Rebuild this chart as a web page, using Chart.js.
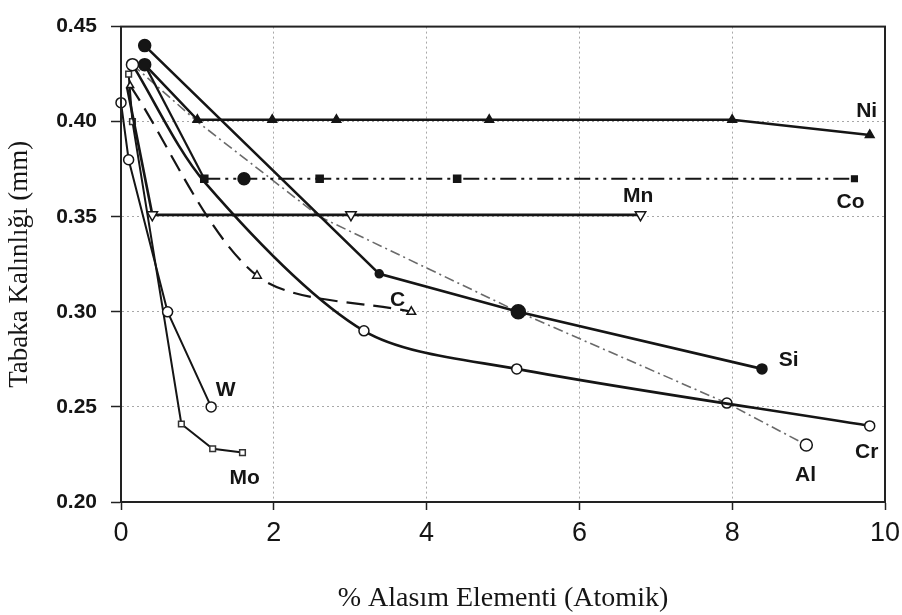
<!DOCTYPE html>
<html><head><meta charset="utf-8">
<script src="https://cdn.jsdelivr.net/npm/chart.js@4.4.1/dist/chart.umd.min.js"></script>
<style>html,body{margin:0;padding:0;background:#fff}#wrap{width:902px;height:615px;position:relative}</style>
</head><body><div id="wrap"><canvas id="c"></canvas></div>
<script>
// ---- data ----
const xTicks = [0, 2, 4, 6, 8, 10];
const yTicks = [0.20, 0.25, 0.30, 0.35, 0.40, 0.45];
const niX = [0.31, 1.0, 1.98, 2.82, 4.82, 8.0, 9.8];
const niY = [0.430, 0.401, 0.401, 0.401, 0.401, 0.401, 0.393];
const coX = [0.31, 1.09, 1.61, 2.6, 4.4, 9.6];
const coY = [0.430, 0.370, 0.370, 0.370, 0.370, 0.370];
const mnX = [0.08, 0.41, 3.01, 6.8];
const mnY = [0.418, 0.351, 0.351, 0.351];
const siX = [0.31, 3.38, 5.2, 8.39];
const siY = [0.440, 0.320, 0.300, 0.270];
const crX = [0.15, 1.1, 3.18, 5.18, 9.8];
const crY = [0.430, 0.368, 0.290, 0.270, 0.240];
const alX = [0.15, 1.0, 2.6, 5.2, 7.93, 8.97];
const alY = [0.430, 0.400, 0.350, 0.300, 0.252, 0.230];
const cX = [0.12, 1.78, 3.8];
const cY = [0.419, 0.319, 0.300];
const wX = [0.0, 0.1, 0.61, 1.18];
const wY = [0.410, 0.380, 0.300, 0.250];
const moX = [0.1, 0.15, 0.79, 1.2, 1.59];
const moY = [0.425, 0.400, 0.241, 0.228, 0.226];
const labelNames = ['Ni', 'Co', 'Mn', 'C', 'Si', 'Al', 'Cr', 'W', 'Mo'];
const labelX = [9.76, 9.55, 6.77, 3.62, 8.74, 8.96, 9.76, 1.37, 1.62];
const labelY = [0.4056, 0.3576, 0.361, 0.306, 0.2745, 0.214, 0.226, 0.259, 0.2125];
const xTitle = '% Alasım Elementi (Atomik)';
const yTitle = 'Tabaka Kalınlığı (mm)';

const pts = (xs, ys) => xs.map((x, i) => ({x: x, y: ys[i]}));
const INK = '#151515';

const base = {fill: false, clip: false, borderColor: INK, pointBorderColor: INK, pointBorderWidth: 1.5, tension: 0};

const datasets = [
  Object.assign({}, base, {label: 'Ni', data: pts(niX, niY), borderWidth: 2.6,
    pointStyle: ['circle', 'triangle', 'triangle', 'triangle', 'triangle', 'triangle', 'triangle'],
    pointRadius: [6, 5, 5, 5, 5, 5, 5], pointBackgroundColor: INK}),
  Object.assign({}, base, {label: 'Co', data: pts(coX, coY), borderWidth: 2.2,
    segment: {borderDash: ctx => ctx.p0DataIndex === 0 ? [] : [16, 5, 3, 5, 3, 5]},
    pointStyle: ['circle', 'rect', 'circle', 'rect', 'rect', 'rect'],
    pointRadius: [0, 5, 6, 5, 5, 4], pointBackgroundColor: INK}),
  Object.assign({}, base, {label: 'Mn', data: pts(mnX, mnY), borderWidth: 2.6,
    pointStyle: 'triangle', rotation: 180, pointRadius: [0, 6, 6, 6], pointBackgroundColor: '#fff'}),
  Object.assign({}, base, {label: 'Si', data: pts(siX, siY), borderWidth: 2.6,
    pointStyle: 'circle', pointRadius: [6, 4, 7, 5], pointBackgroundColor: INK}),
  Object.assign({}, base, {label: 'Cr', data: pts(crX, crY), borderWidth: 2.6, tension: 0.3,
    pointStyle: 'circle', pointRadius: [6, 0, 5, 5, 5], pointBackgroundColor: '#fff'}),
  Object.assign({}, base, {label: 'Al', data: pts(alX, alY), borderWidth: 1.6, borderColor: '#6a6a6a',
    borderDash: [10, 4, 2, 4], pointStyle: 'circle', pointRadius: [0, 0, 0, 0, 5, 6], pointBackgroundColor: '#fff'}),
  Object.assign({}, base, {label: 'C', data: pts(cX, cY), borderWidth: 2.2, tension: 0.3,
    borderDash: [18, 9], pointStyle: 'triangle', pointRadius: [4, 5, 5], pointBackgroundColor: '#fff'}),
  Object.assign({}, base, {label: 'W', data: pts(wX, wY), borderWidth: 2,
    pointStyle: 'circle', pointRadius: 5, pointBackgroundColor: '#fff'}),
  Object.assign({}, base, {label: 'Mo', data: pts(moX, moY), borderWidth: 2,
    pointStyle: 'rect', pointRadius: 4, pointBackgroundColor: '#fff', pointBorderColor: '#333'})
];

const framePlugin = {
  id: 'frameAndLabels',
  afterDraw(chart) {
    const {ctx, chartArea: a, scales} = chart;
    ctx.save();
    ctx.setLineDash([]);
    ctx.strokeStyle = '#222';
    ctx.lineWidth = 2;
    ctx.strokeRect(a.left, a.top, a.right - a.left, a.bottom - a.top);
    ctx.fillStyle = INK;
    ctx.font = 'bold 21px "Liberation Sans", Arial, sans-serif';
    ctx.textAlign = 'center';
    ctx.textBaseline = 'middle';
    labelNames.forEach((n, i) => {
      ctx.fillText(n, scales.x.getPixelForValue(labelX[i]), scales.y.getPixelForValue(labelY[i]));
    });
    ctx.restore();
  }
};

new Chart(document.getElementById('c'), {
  type: 'line',
  data: {datasets: datasets},
  options: {
    responsive: true, maintainAspectRatio: false, animation: false,
    layout: {padding: {top: 18, right: 17, left: 0, bottom: 0}},
    plugins: {legend: {display: false}, tooltip: {enabled: false}},
    scales: {
      x: {
        type: 'linear', min: 0, max: 10,
        afterBuildTicks: s => { s.ticks = xTicks.map(v => ({value: v})); },
        afterFit: s => { s.height = 113; s.paddingRight = 0; },
        ticks: {color: INK, padding: 7, font: {family: '"Liberation Sans", Arial, sans-serif', size: 27}, maxRotation: 0},
        grid: {color: '#a8a8a8', lineWidth: 1, tickColor: '#222', tickLength: 8, tickWidth: 1.5, tickBorderDash: []},
        border: {display: true, color: '#222', width: 2, dash: [2, 3]},
        title: {display: true, text: xTitle, color: INK, font: {family: '"Liberation Serif", "Times New Roman", serif', size: 28}, padding: {top: 0, bottom: 0}}
      },
      y: {
        type: 'linear', min: 0.2, max: 0.45,
        afterBuildTicks: s => { s.ticks = yTicks.map(v => ({value: v})); },
        afterFit: s => { s.width = 121; },
        ticks: {color: INK, padding: 14, font: {family: '"Liberation Sans", Arial, sans-serif', size: 21, weight: 'bold'},
          callback: v => Number(v).toFixed(2)},
        grid: {color: '#a8a8a8', lineWidth: 1, tickColor: '#222', tickLength: 10, tickWidth: 1.5, tickBorderDash: []},
        border: {display: true, color: '#222', width: 2, dash: [2, 3]},
        title: {display: true, text: yTitle, color: INK, font: {family: '"Liberation Serif", "Times New Roman", serif', size: 27}, padding: {top: 4, bottom: 0}}
      }
    }
  },
  plugins: [framePlugin]
});
</script></body></html>
